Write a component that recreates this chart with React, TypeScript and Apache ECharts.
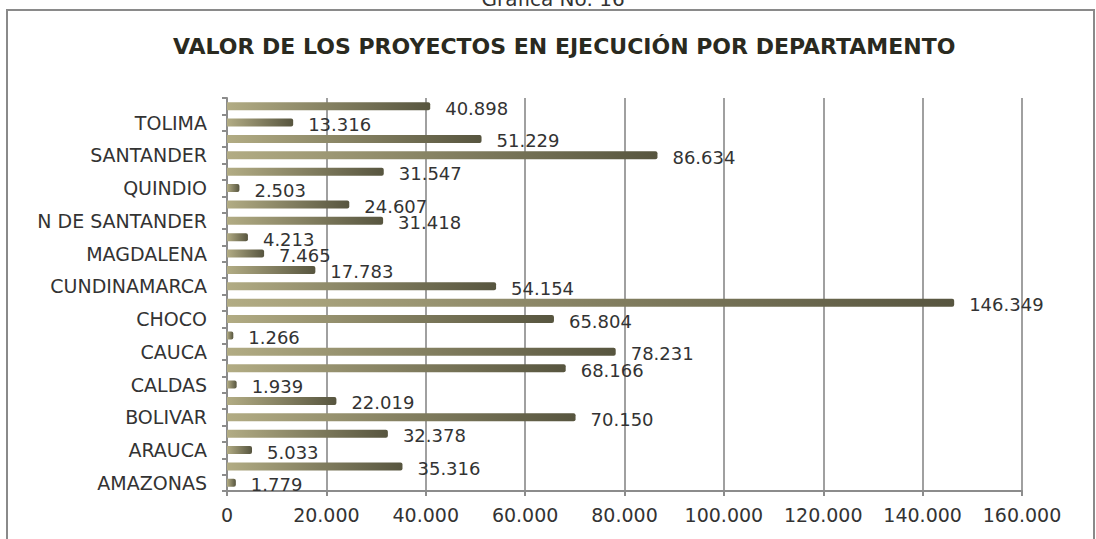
import React, { useEffect, useRef } from "react";
import * as echarts from "echarts";

const categories = [
  "AMAZONAS", "ANTIOQUIA", "ARAUCA", "ATLANTICO", "BOLIVAR", "BOYACA",
  "CALDAS", "CAQUETA", "CAUCA", "CESAR", "CHOCO", "CORDOBA",
  "CUNDINAMARCA", "HUILA", "MAGDALENA", "META", "N DE SANTANDER", "NARIÑO",
  "QUINDIO", "RISARALDA", "SANTANDER", "SUCRE", "TOLIMA", "VALLE",
];
const values = [
  1779, 35316, 5033, 32378, 70150, 22019,
  1939, 68166, 78231, 1266, 65804, 146349,
  54154, 17783, 7465, 4213, 31418, 24607,
  2503, 31547, 86634, 51229, 13316, 40898,
];
const xTicks = { min: 0, max: 160000, interval: 20000 };
const caption = "Grafica No. 16";
const title = "VALOR DE LOS PROYECTOS EN EJECUCIÓN POR DEPARTAMENTO";

const fmt = (v: number) => String(Math.round(v)).replace(/\B(?=(\d{3})+(?!\d))/g, ".");

export default function App() {
  const ref = useRef<HTMLDivElement>(null);
  useEffect(() => {
    document.body.style.margin = "0";
    const chart = echarts.init(ref.current!, null, { renderer: "svg" });
    const font = "'DejaVu Sans', Verdana, sans-serif";
    chart.setOption({
      animation: false,
      backgroundColor: "#ffffff",
      textStyle: { fontFamily: font },
      graphic: [
        {
          type: "rect",
          shape: { x: 7, y: 10, width: 1087, height: 560 },
          style: { fill: "none", stroke: "#8a8a8a", lineWidth: 2 },
        },
        {
          type: "text",
          x: 553,
          y: 9,
          style: {
            text: caption,
            fill: "#333333",
            font: `20px ${font}`,
            textAlign: "center",
            textVerticalAlign: "bottom",
          },
        },
      ],
      title: {
        text: title,
        left: 168,
        top: 30,
        textStyle: { fontFamily: font, fontSize: 22, fontWeight: "bold", color: "#2a2a20" },
      },
      grid: { left: 227, right: 74, top: 98, bottom: 48, containLabel: false },
      xAxis: {
        type: "value",
        min: xTicks.min,
        max: xTicks.max,
        interval: xTicks.interval,
        axisLine: { show: true, lineStyle: { color: "#8c8c8c", width: 2 } },
        axisTick: { show: true, length: 5, lineStyle: { color: "#8c8c8c", width: 2 } },
        splitLine: { show: true, lineStyle: { color: "#a0a0a0", width: 2 } },
        axisLabel: {
          formatter: (v: number) => fmt(v),
          color: "#333333",
          fontSize: 19,
          fontFamily: font,
          margin: 14,
        },
      },
      yAxis: {
        type: "category",
        data: categories,
        axisLine: { show: true, lineStyle: { color: "#8c8c8c", width: 2 } },
        axisTick: { show: true, length: 5, interval: 0, lineStyle: { color: "#8c8c8c", width: 2 } },
        axisLabel: {
          interval: 1,
          color: "#333333",
          fontSize: 19,
          fontFamily: font,
          margin: 20,
        },
      },
      series: [
        {
          type: "bar",
          data: values,
          barWidth: 8,
          itemStyle: {
            color: new echarts.graphic.LinearGradient(0, 0, 1, 0, [
              { offset: 0, color: "#b2ac84" },
              { offset: 1, color: "#57553f" },
            ]),
            borderRadius: [0, 2, 2, 0],
          },
          label: {
            show: true,
            position: "right",
            distance: 15,
            offset: [0, 2],
            formatter: (p: any) => fmt(p.value),
            color: "#333333",
            fontSize: 18,
            fontFamily: font,
          },
        },
      ],
    });
    return () => chart.dispose();
  }, []);
  return <div ref={ref} style={{ width: 1096, height: 539 }} />;
}
